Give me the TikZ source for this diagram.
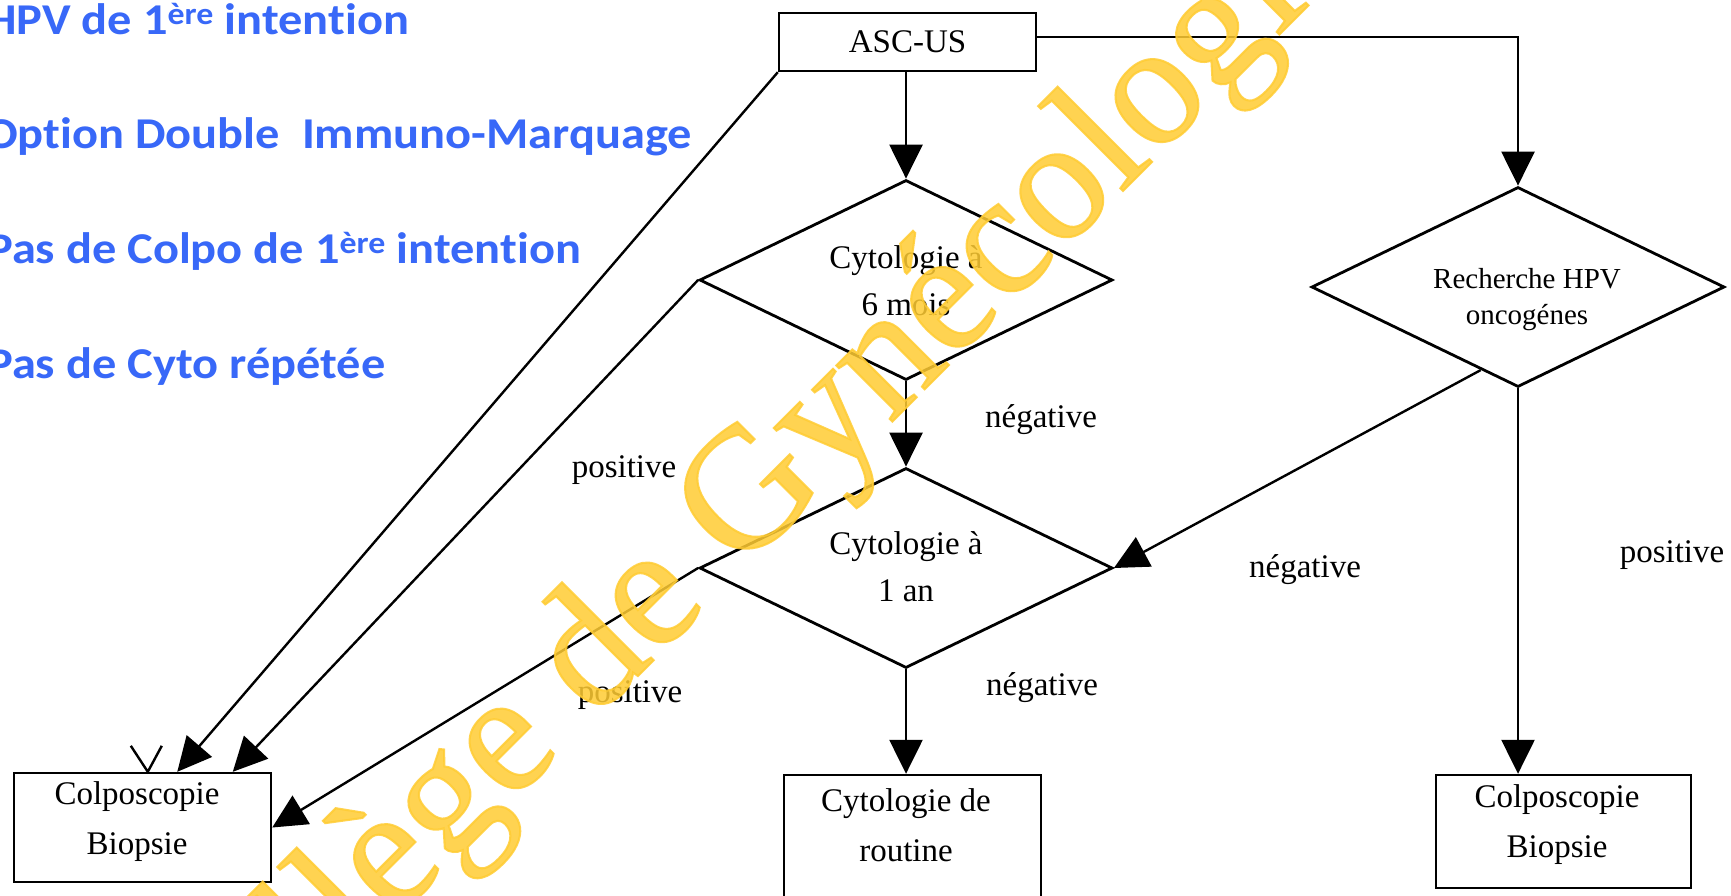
\documentclass[tikz,border=0pt]{standalone}
\usepackage{fontspec}
\setmainfont{Liberation Serif}
\newfontfamily\notefont[Ligatures=NoCommon]{Carlito}
\newfontfamily\wmfont[FakeBold=1.2]{Liberation Serif}
\usetikzlibrary{arrows.meta,shapes.geometric,calc}

\definecolor{noteblue}{RGB}{56,104,248}
\definecolor{wmyellow}{RGB}{255,204,51}

\newcommand{\widenote}[1]{\scalebox{1.1}[1]{#1}}

\begin{document}
\begin{tikzpicture}[x=1pt,y=-1pt,
  box/.style={draw,line width=2.4pt,inner sep=0,align=center,
    font=\fontsize{33}{50}\selectfont},
  boxtext/.style={inner sep=0,align=center,font=\fontsize{33}{50}\selectfont},
  choice/.style={draw,diamond,aspect=2,line width=2.8pt,inner sep=0,
    minimum width=413pt,minimum height=200pt},
  choicetext/.style={inner sep=0,align=center},
  flow/.style={line width=2.4pt,-{Triangle[length=34pt,width=33pt]}},
  lbl/.style={inner sep=0,font=\fontsize{33}{40}\selectfont},
  note/.style={inner sep=0,anchor=base west,text=noteblue,
    font=\notefont\bfseries\fontsize{44}{50}\selectfont},
]
\useasboundingbox (0,0) rectangle (1731,895);
\clip (0,0) rectangle (1731,895);
\fill[white] (0,0) rectangle (1731,895);

% key messages
\node[note] (m1) at (-14,34)  {\widenote{HPV de 1\textsuperscript{ère} intention}};
\node[note] (m2) at (-15,148) {\widenote{Option Double~ Immuno-Marquage}};
\node[note] (m3) at (-13,263) {\widenote{Pas de Colpo de 1\textsuperscript{ère} intention}};
\node[note] (m4) at (-13,378) {\widenote{Pas de Cyto répétée}};

% boxes
\node[box,minimum width=257pt,minimum height=58pt] (asc) at (907.5,42) {ASC-US};
\node[box,minimum width=257pt,minimum height=109pt] (colpoL) at (142.5,827.5) {};
\node[boxtext] (colpoLtxt) at (137,822) {Colposcopie\\Biopsie};
\node[box,minimum width=257pt,minimum height=130pt] (routine) at (912.5,840) {};
\node[boxtext] (routinetxt) at (906,825) {Cytologie de\\routine};
\node[box,minimum width=255pt,minimum height=113pt] (colpoR) at (1563.5,831.5) {};
\node[boxtext] (colpoRtxt) at (1557,825) {Colposcopie\\Biopsie};

% decisions
\node[choice] (d1) at (906,280) {};
\node[choicetext,font=\fontsize{33}{47}\selectfont] (d1txt) at (906,281) {Cytologie à\\6 mois};
\node[choice] (d2) at (906,568) {};
\node[choicetext,font=\fontsize{33}{47}\selectfont] (d2txt) at (906,567) {Cytologie à\\1 an};
\node[choice] (hpv) at (1518,287) {};
\node[choicetext,font=\fontsize{29}{36}\selectfont] (hpvtxt) at (1527,300) {Recherche HPV\\oncogénes};

% connectors
\draw[flow] (asc.south -| d1.north) -- (d1.north);
\draw[flow] ($(asc.east)+(0,-5)$) -| (hpv.north);
\draw[flow] (asc.south west) -- ($(colpoL.north west)!0.634!(colpoL.north east)$);
\draw[flow] (d1.west) -- ($(colpoL.north west)!0.848!(colpoL.north east)$);
\draw[flow] (d1.south) -- (d2.north);
\draw[flow] (d2.west) -- (colpoL.east);
\draw[flow] (d2.south) -- (routine.north -| d2.south);
\draw[flow] ($(hpv.west)!0.82!(hpv.south)$) -- (d2.east);
\draw[flow] (hpv.south) -- (colpoR.north -| hpv.south);

% open tip on the left box
\coordinate (vtip) at ($(colpoL.north west)+(135,0)$);
\draw[line width=2.4pt] ($(vtip)+(-17,-26)$) -- (vtip) -- ($(vtip)+(14,-26)$);

% branch labels
\node[lbl] (l1) at (1041,420) {négative};
\node[lbl] (l2) at (624,470)  {positive};
\node[lbl] (l3) at (630,695)  {positive};
\node[lbl] (l4) at (1305,570) {négative};
\node[lbl] (l5) at (1042,688) {négative};
\node[lbl] (l6) at (1672,555) {positive};

% watermark
\node[rotate=45,anchor=base,inner sep=0,text=wmyellow,opacity=0.85,
  font=\wmfont\fontsize{173}{173}\selectfont] (wm) at (774,540) {Collège de Gynécologie};
\end{tikzpicture}
\end{document}
